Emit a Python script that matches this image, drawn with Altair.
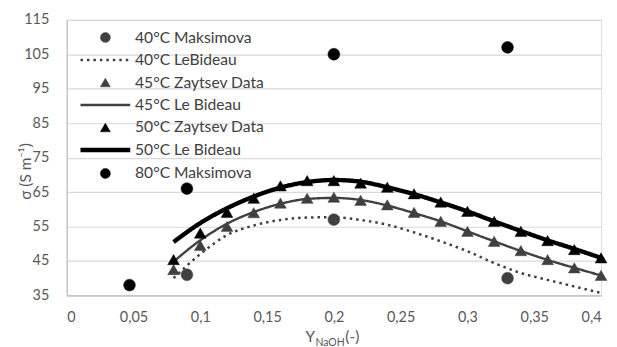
import altair as alt
import pandas as pd

# ---------------- data ----------------
series_names = ["40°C Maksimova", "40°C LeBideau", "45°C Zaytsev Data", "45°C Le Bideau",
                "50°C Zaytsev Data", "50°C Le Bideau", "80°C Maksimova"]

x_grid = [0.08, 0.10, 0.12, 0.14, 0.16, 0.18, 0.20, 0.22, 0.24, 0.26, 0.28, 0.30,
          0.32, 0.34, 0.36, 0.38, 0.40]

zaytsev45 = [42.5, 49.5, 55.0, 59.0, 61.8, 63.2, 63.5, 62.6, 61.3, 59.1, 56.5, 53.6,
             50.7, 48.0, 45.4, 43.0, 40.8]
zaytsev50 = [45.4, 53.1, 59.1, 63.2, 66.8, 68.3, 68.3, 67.6, 66.4, 64.5, 62.1, 59.4,
             56.5, 53.6, 50.9, 48.3, 45.9]

lebideau40 = [40.0, 47.0, 52.5, 55.3, 56.9, 57.6, 57.7, 56.9, 55.5, 53.3, 50.7, 47.8,
              44.4, 41.5, 39.5, 37.6, 35.7]
lebideau45 = [44.8, 51.0, 55.8, 59.2, 61.6, 63.0, 63.3, 62.7, 61.1, 58.9, 56.5, 53.6,
              50.7, 47.9, 45.3, 43.0, 40.8]
lebideau50 = [50.5, 56.0, 60.3, 63.7, 66.3, 67.9, 68.5, 68.0, 66.4, 64.4, 62.0, 59.4,
              56.5, 53.7, 51.0, 48.5, 45.9]

maksimova40_x = [0.09, 0.20, 0.33]
maksimova40_y = [41.0, 57.0, 40.0]
maksimova80_x = [0.047, 0.09, 0.20, 0.33]
maksimova80_y = [38.0, 66.0, 105.0, 107.0]

x_ticks = [0, 0.05, 0.1, 0.15, 0.2, 0.25, 0.3, 0.35, 0.4]
y_ticks = [35, 45, 55, 65, 75, 85, 95, 105, 115]

# ---------------- styles ----------------
GREY = "#404040"
BLACK = "#000000"
LINE = "M-5,0L5,0"
series_colors = [GREY, GREY, GREY, GREY, BLACK, BLACK, BLACK]
series_shapes = ["circle", LINE, "triangle-up", LINE, "triangle-up", LINE, "circle"]
series_dashes = [[1, 0], [2.5, 4], [1, 0], [1, 0], [1, 0], [1, 0], [1, 0]]
series_widths = [0.5, 2.5, 0.5, 2.4, 0.5, 4.4, 0.5]

point_rows = []
for name, xs, ys in [("40°C Maksimova", maksimova40_x, maksimova40_y),
                     ("45°C Zaytsev Data", x_grid, zaytsev45),
                     ("50°C Zaytsev Data", x_grid, zaytsev50),
                     ("80°C Maksimova", maksimova80_x, maksimova80_y)]:
    for xv, yv in zip(xs, ys):
        point_rows.append({"series": name, "x": xv, "y": yv})
line_rows = []
for name, ys in [("40°C LeBideau", lebideau40), ("45°C Le Bideau", lebideau45),
                 ("50°C Le Bideau", lebideau50)]:
    for xv, yv in zip(x_grid, ys):
        line_rows.append({"series": name, "x": xv, "y": yv})

points_df = pd.DataFrame(point_rows)
lines_df = pd.DataFrame(line_rows)

FONT = "Lato"
color_scale = alt.Scale(domain=series_names, range=series_colors, type="ordinal")
shape_scale = alt.Scale(domain=series_names, range=series_shapes, type="ordinal")
dash_scale = alt.Scale(domain=series_names, range=series_dashes, type="ordinal")
width_scale = alt.Scale(domain=series_names, range=series_widths, type="ordinal")

x_enc = alt.X("x:Q", scale=alt.Scale(domain=[0, 0.4], nice=False, zero=False),
              axis=alt.Axis(values=x_ticks, labelExpr="replace(toString(datum.value), '.', ',')",
                            grid=False, ticks=False, domainColor="#bfbfbf", domainWidth=1.2,
                            labelFont=FONT, labelFontSize=14.5, labelColor="#595959",
                            labelPadding=15, title=None))
y_enc = alt.Y("y:Q", scale=alt.Scale(domain=[35, 115], nice=False, zero=False),
              axis=alt.Axis(values=y_ticks, grid=True, gridColor="#d9d9d9", gridWidth=1.2,
                            ticks=False, domainColor="#bfbfbf", domainWidth=1.2,
                            labelFont=FONT, labelFontSize=14.5, labelColor="#595959",
                            labelPadding=18, title="σ (S m⁻¹)", titleFont=FONT,
                            titleFontSize=15.5, titleFontWeight="normal", titleColor="#595959",
                            titleX=-41, titleY=152, titleBaseline="middle",
                            titleAlign="center", titleAngle=270))

legend = alt.Legend(title=None, orient="none", legendX=31, legendY=10, padding=0,
                    labelFont=FONT, labelFontSize=15.7, labelColor=GREY,
                    symbolSize=100, rowPadding=5.6, labelOffset=22, symbolOpacity=1)

lines = alt.Chart(lines_df).mark_line(interpolate="monotone").encode(
    x=x_enc, y=y_enc,
    stroke=alt.Stroke("series:N", scale=color_scale, legend=legend),
    strokeDash=alt.StrokeDash("series:N", scale=dash_scale, legend=legend),
    strokeWidth=alt.StrokeWidth("series:N", scale=width_scale, legend=legend),
    detail="series:N",
)

points = alt.Chart(points_df).mark_point(size=140, opacity=1).encode(
    x=x_enc, y=y_enc,
    fill=alt.Fill("series:N", scale=color_scale, legend=legend),
    stroke=alt.Stroke("series:N", scale=color_scale, legend=legend),
    shape=alt.Shape("series:N", scale=shape_scale, legend=legend),
    strokeDash=alt.StrokeDash("series:N", scale=dash_scale, legend=legend),
    strokeWidth=alt.StrokeWidth("series:N", scale=width_scale, legend=legend),
)

title_df = pd.DataFrame({"t": [0]})
t_y = alt.Chart(title_df).mark_text(align="left", baseline="alphabetic", font=FONT,
                                    fontSize=15.5, color="#595959").encode(
    x=alt.value(240), y=alt.value(324), text=alt.value("Y"))
t_sub = alt.Chart(title_df).mark_text(align="left", baseline="alphabetic", font=FONT,
                                      fontSize=10.5, color="#595959").encode(
    x=alt.value(250), y=alt.value(328), text=alt.value("NaOH"))
t_par = alt.Chart(title_df).mark_text(align="left", baseline="alphabetic", font=FONT,
                                      fontSize=15.5, color="#595959").encode(
    x=alt.value(280), y=alt.value(324), text=alt.value("(-)"))

chart = alt.layer(lines, points, t_y, t_sub, t_par).properties(
    width=537, height=277,
    autosize=alt.AutoSizeParams(type="none"),
    padding={"left": 59, "top": 11, "right": 8, "bottom": 52},
).configure_view(stroke=None).configure(background="white")

chart.save("out.html", embed_options={"renderer": "svg", "actions": False})
